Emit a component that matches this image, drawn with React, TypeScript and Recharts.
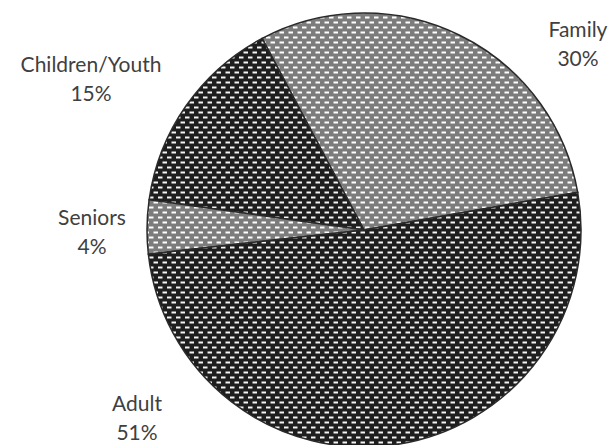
import React from "react";
import { PieChart, Pie, Cell } from "recharts";

const categories = ["Family", "Children/Youth", "Seniors", "Adult"];
const shares = [30, 15, 4, 51];
const fills = ["url(#lightDots)", "url(#darkDots)", "url(#lightDots)", "url(#darkDots)"];

// label position (centre x, first baseline) relative to the pie centre, px
const labelOffsets = [
  [214, -193],
  [-273, -158],
  [-272, -5],
  [-227, 181],
];

const data = categories.map((name, i) => ({ name, value: shares[i] }));

function renderLabel(props: any) {
  const { cx, cy, index } = props;
  const [dx, dy] = labelOffsets[index];
  const x = cx + dx;
  const y = cy + dy;
  return (
    <text
      x={x}
      y={y}
      textAnchor="middle"
      fill="#404040"
      fontSize={21}
      fontFamily="Lato, 'Open Sans', sans-serif"
    >
      <tspan x={x} y={y}>{data[index].name}</tspan>
      <tspan x={x} y={y + 29}>{data[index].value}%</tspan>
    </text>
  );
}

export default function App() {
  return (
    <div style={{ position: "absolute", left: 0, top: 0, width: 609, height: 445, background: "#fff" }}>
      <svg width={0} height={0} style={{ position: "absolute" }}>
        <defs>
          <pattern id="darkDots" width={9} height={10} patternUnits="userSpaceOnUse">
            <rect width={9} height={10} fill="#1e1e1e" />
            <rect x={0.5} y={1.5} width={4.5} height={2} fill="#f4f4f4" />
            <rect x={5} y={6.5} width={4.5} height={2} fill="#f4f4f4" />
            <rect x={-4} y={6.5} width={4.5} height={2} fill="#f4f4f4" />
          </pattern>
          <pattern id="lightDots" width={9} height={10} patternUnits="userSpaceOnUse">
            <rect width={9} height={10} fill="#7c7c7c" />
            <rect x={0.5} y={1.5} width={4.5} height={2} fill="#ffffff" />
            <rect x={5} y={6.5} width={4.5} height={2} fill="#ffffff" />
            <rect x={-4} y={6.5} width={4.5} height={2} fill="#ffffff" />
          </pattern>
        </defs>
      </svg>
      <PieChart width={609} height={445}>
        <Pie
          data={data}
          dataKey="value"
          nameKey="name"
          cx={359}
          cy={225}
          outerRadius={217}
          startAngle={10}
          endAngle={370}
          stroke="#2a2a2a"
          strokeWidth={1.5}
          label={renderLabel}
          labelLine={false}
          isAnimationActive={false}
        >
          {data.map((d, i) => (
            <Cell key={d.name} fill={fills[i]} />
          ))}
        </Pie>
      </PieChart>
    </div>
  );
}
